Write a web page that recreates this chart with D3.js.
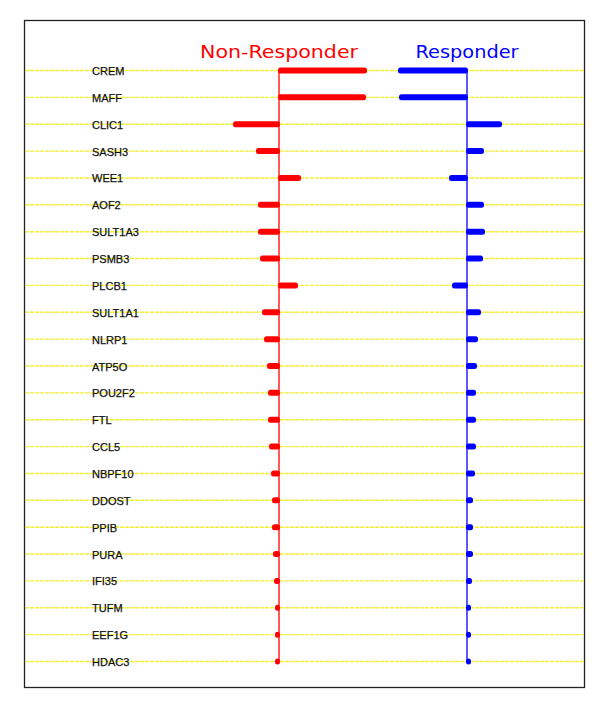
<!DOCTYPE html>
<html>
<head>
<meta charset="utf-8">
<script src="https://cdn.jsdelivr.net/npm/d3@7"></script>
<style>
  body { margin: 0; background: #fff; }
  svg { display: block; }
</style>
</head>
<body>
<div id="chart"></div>
<script>
// genes, top to bottom
var genes = ["CREM", "MAFF", "CLIC1", "SASH3", "WEE1", "AOF2", "SULT1A3", "PSMB3", "PLCB1",
	"SULT1A1", "NLRP1", "ATP5O", "POU2F2", "FTL", "CCL5", "NBPF10", "DDOST", "PPIB", "PURA",
	"IFI35", "TUFM", "EEF1G", "HDAC3"];

var groups = ["Non-Responder", "Responder"];

// values (relative units)
var nonResponder = [1.78, 1.76, -0.94, -0.48, 0.46, -0.44, -0.44, -0.40, 0.40,
	-0.36, -0.32, -0.26, -0.24, -0.24, -0.22, -0.18, -0.16, -0.16, -0.14,
	-0.12, -0.08, -0.08, -0.04];

var responder = [-1.40, -1.38, 0.72, 0.36, -0.38, 0.36, 0.38, 0.34, -0.32,
	0.30, 0.24, 0.22, 0.20, 0.20, 0.20, 0.18, 0.14, 0.14, 0.14,
	0.12, 0.10, 0.08, 0.06];

var colors = { "Non-Responder": "#ff0000", "Responder": "#0000ff" };

var W = 600, H = 707;
var frame = { left: 24, top: 20, right: 584, bottom: 687 };

var svg = d3.select("#chart").append("svg")
	.attr("width", W)
	.attr("height", H);

// scales
var y = d3.scalePoint().domain(genes).range([70, 661]);
var baseX = d3.scaleOrdinal().domain(groups).range([279, 467]);
var v = d3.scaleLinear().domain([0, 1]).range([0, 50]);

// frame
svg.append("rect")
	.attr("x", frame.left + 0.5)
	.attr("y", frame.top + 0.5)
	.attr("width", frame.right - frame.left)
	.attr("height", frame.bottom - frame.top)
	.attr("fill", "none")
	.attr("stroke", "#222")
	.attr("stroke-width", 1.3);

// yellow dotted row lines
svg.append("g").selectAll("line")
	.data(genes)
	.enter()
	.append("line")
	.attr("x1", frame.left + 1)
	.attr("x2", frame.right)
	.attr("y1", function(d){ return y(d) + 0.5; })
	.attr("y2", function(d){ return y(d) + 0.5; })
	.attr("stroke", "#f2f030")
	.attr("stroke-width", 1.4)
	.attr("stroke-dasharray", "4,1");

// gene labels
svg.append("g").selectAll("text")
	.data(genes)
	.enter()
	.append("text")
	.text(function(d){ return d; })
	.attr("x", 92)
	.attr("y", function(d){ return y(d) + 5; })
	.attr("font-family", "Liberation Sans, Arial, sans-serif")
	.attr("font-size", 11)
	.attr("fill", "#111")
	.attr("stroke", "#111")
	.attr("stroke-width", 0.25);

// group titles
svg.append("g").selectAll("text")
	.data(groups)
	.enter()
	.append("text")
	.text(function(d){ return d; })
	.attr("x", function(d){ return baseX(d); })
	.attr("y", 58)
	.attr("text-anchor", "middle")
	.attr("font-family", "DejaVu Sans, sans-serif")
	.attr("font-size", 17)
	.attr("textLength", function(d){ return d == "Responder" ? 103 : 158; })
	.attr("lengthAdjust", "spacingAndGlyphs")
	.attr("fill", function(d){ return colors[d]; });

// baselines
svg.append("g").selectAll("line")
	.data(groups)
	.enter()
	.append("line")
	.attr("x1", function(d){ return baseX(d); })
	.attr("x2", function(d){ return baseX(d); })
	.attr("y1", y(genes[0]))
	.attr("y2", y(genes[genes.length - 1]))
	.attr("stroke", function(d){ return colors[d]; })
	.attr("stroke-width", 1.3);

// bars
var series = [
	{ name: "Non-Responder", values: nonResponder },
	{ name: "Responder", values: responder }
];

series.forEach(function(s){
	svg.append("g").selectAll("rect")
		.data(s.values)
		.enter()
		.append("rect")
		.attr("x", function(d){
			var w = Math.max(5, Math.abs(v(d)));
			return d < 0 ? baseX(s.name) - w + 1 : baseX(s.name) - 1;
		})
		.attr("y", function(d, i){ return y(genes[i]) - 2.5; })
		.attr("width", function(d){ return Math.max(5, Math.abs(v(d))); })
		.attr("height", 6)
		.attr("rx", 2.5)
		.attr("fill", colors[s.name]);
});
</script>
</body>
</html>
